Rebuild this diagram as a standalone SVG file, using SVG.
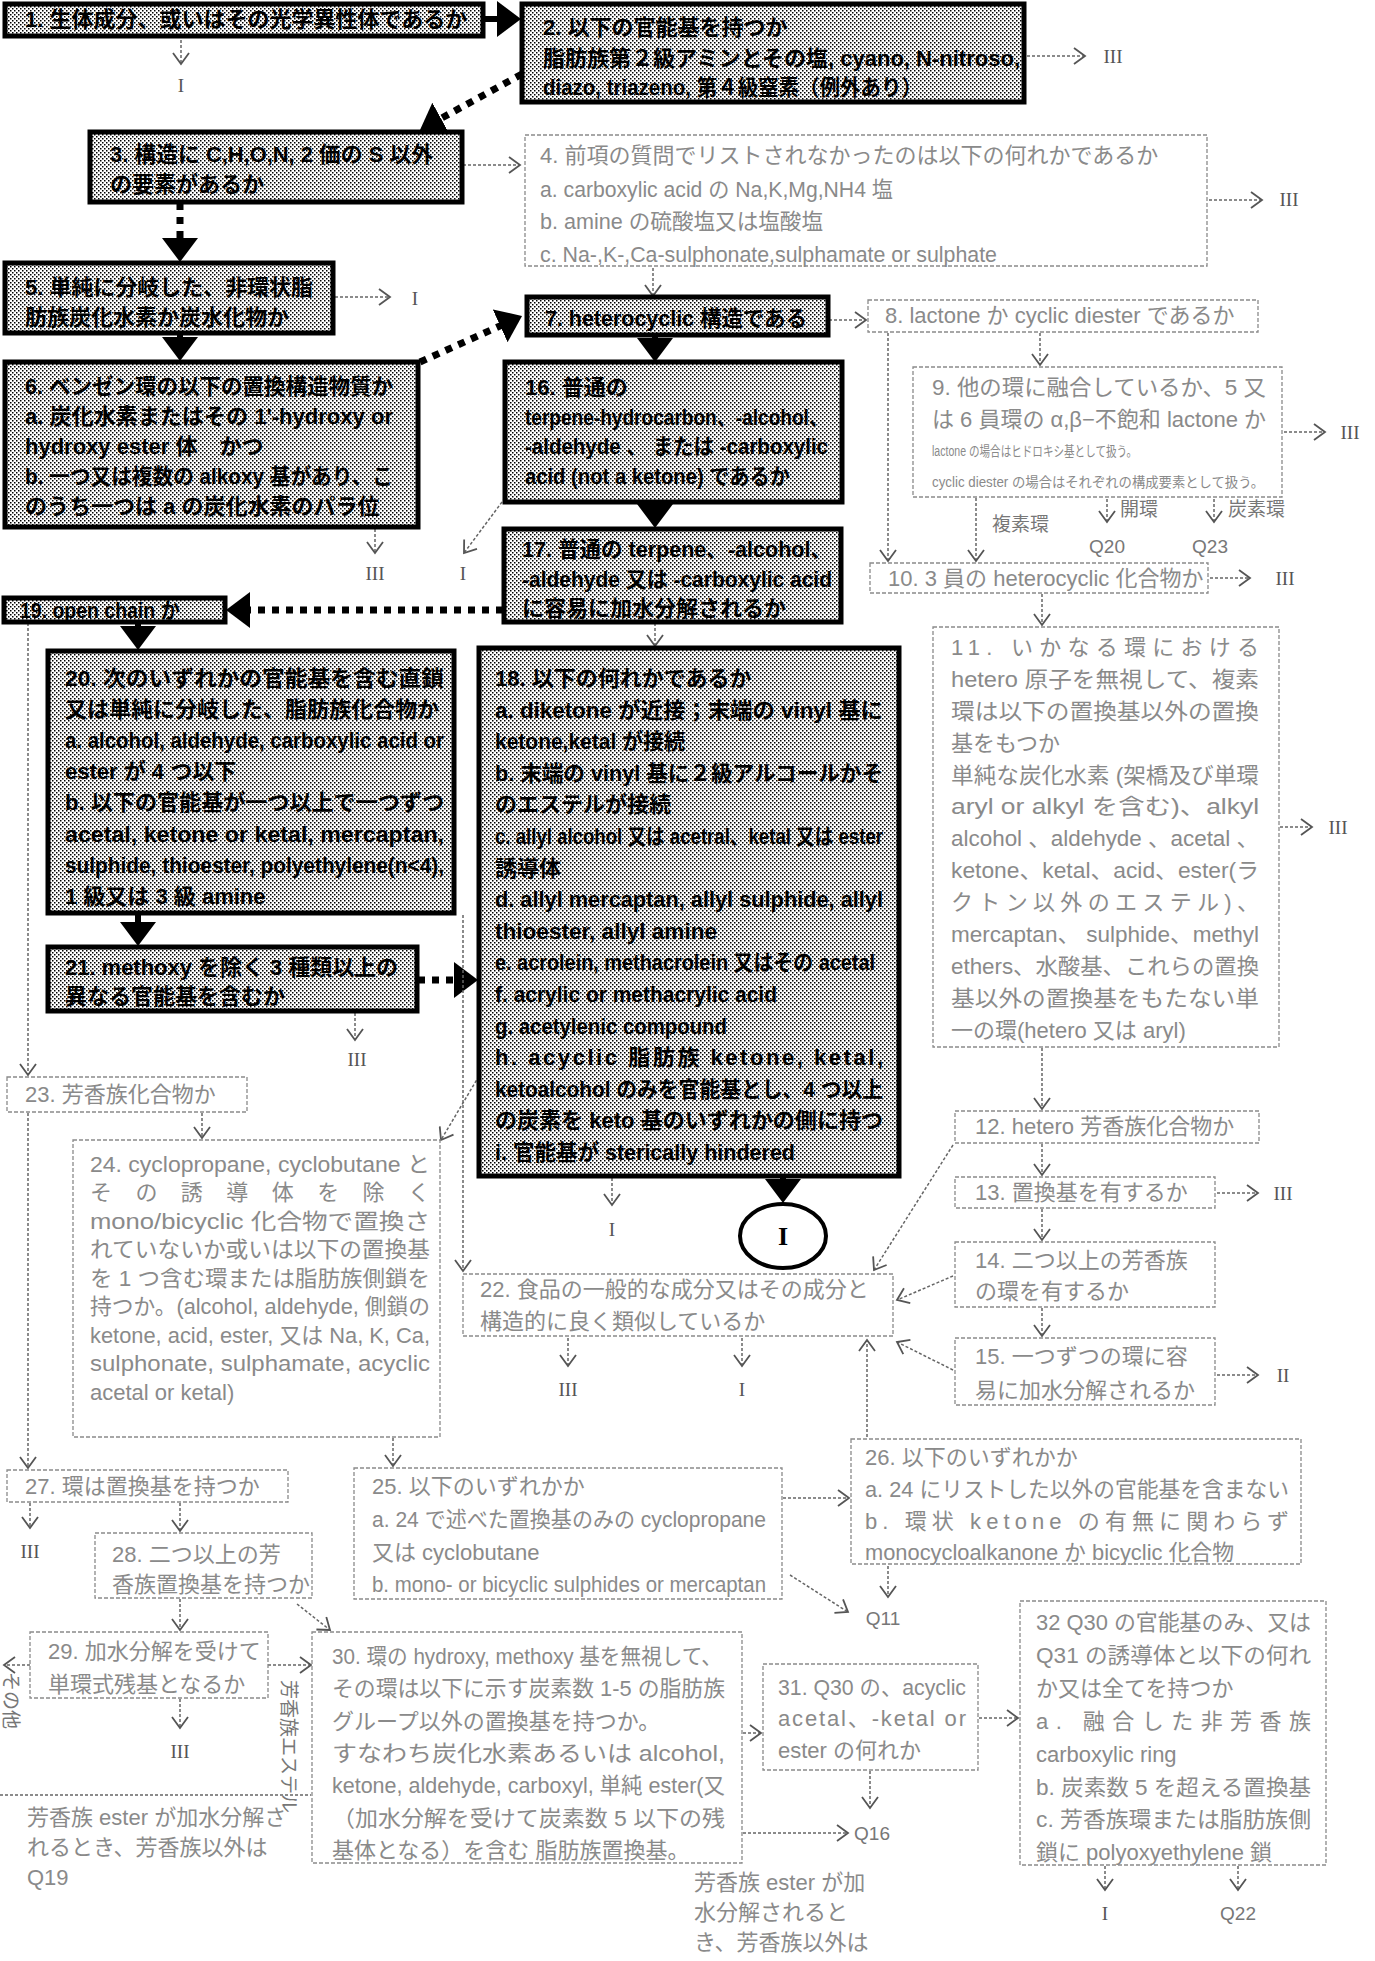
<svg xmlns="http://www.w3.org/2000/svg" width="1375" height="1961" viewBox="0 0 1375 1961">
<style>
.bx{fill:url(#dots);stroke:#000;stroke-width:5}
.lx{fill:#fff;stroke:#8a8a8a;stroke-width:1.3;stroke-dasharray:4 2}
.b{font-family:"Liberation Sans","Noto Sans CJK JP",sans-serif;font-size:22px;font-weight:bold;fill:#000}
.l{font-family:"Liberation Sans","Noto Sans CJK JP",sans-serif;font-size:22px;fill:#8a8a8a}
.s{font-family:"Liberation Sans","Noto Sans CJK JP",sans-serif;font-size:14px;fill:#8a8a8a}
.lab{font-family:"Liberation Serif","Noto Sans CJK JP",serif;font-size:19px;fill:#555;text-anchor:middle}
.q{font-family:"Liberation Sans","Noto Sans CJK JP",sans-serif;font-size:19px;fill:#777;text-anchor:middle}
.ql{font-family:"Liberation Sans","Noto Sans CJK JP",sans-serif;font-size:19px;fill:#777}
.ct{fill:none;stroke:#000;stroke-width:6;marker-end:url(#hb)}
.cd{fill:none;stroke:#000;stroke-width:7;stroke-dasharray:7 7;marker-end:url(#hb)}
.cl{fill:none;stroke:#666;stroke-width:1.5;stroke-dasharray:3 2;marker-end:url(#ht)}
.cn{fill:none;stroke:#666;stroke-width:1.5;stroke-dasharray:3 2}
</style>
<defs>
<pattern id="dots" width="4" height="4" patternUnits="userSpaceOnUse"><rect width="4" height="4" fill="#fff"/><rect width="1.5" height="1.5" fill="#000"/><rect x="2" y="2" width="1.5" height="1.5" fill="#000"/></pattern>
<marker id="hb" markerUnits="userSpaceOnUse" viewBox="0 0 24 36" refX="4" refY="18" markerWidth="24" markerHeight="36" orient="auto"><path d="M0,0 L24,18 L0,36 z" fill="#000"/></marker>
<marker id="ht" markerUnits="userSpaceOnUse" viewBox="-1 -1 14 18" refX="11" refY="8" markerWidth="14" markerHeight="18" orient="auto"><path d="M0,0 L11,8 L0,16" fill="none" stroke="#555" stroke-width="1.8"/></marker>
</defs>
<rect width="1375" height="1961" fill="#fff"/>

<g id="connectors">
<path class="ct" d="M483,19 H501"/>
<path class="cd" d="M522,74 L437.5,120.4"/>
<path class="cd" d="M180,203 V242"/>
<path class="ct" d="M180,334 V341"/>
<path class="cd" d="M420,362 L503.8,324.2"/>
<path class="ct" d="M655,336 V342"/>
<path class="ct" d="M655,502 V508"/>
<path class="cd" d="M503,610 H246"/>
<path class="ct" d="M138,623 V630"/>
<path class="ct" d="M138,914 V926"/>
<path class="cd" d="M418,980 H458"/>
<path class="ct" d="M783,1177 V1183"/>

<path class="cl" d="M181,40 V64"/>
<path class="cl" d="M1027,56 H1085"/>
<path class="cl" d="M463,165 H520"/>
<path class="cl" d="M1209,200 H1262"/>
<path class="cl" d="M653,268 V296"/>
<path class="cl" d="M335,297 H390"/>
<path class="cl" d="M375,529 V553"/>
<path class="cl" d="M829,320 H866"/>
<path class="cl" d="M888,333 V561"/>
<path class="cl" d="M1040,333 V365"/>
<path class="cl" d="M1284,432 H1325"/>
<path class="cl" d="M976,498 V561"/>
<path class="cl" d="M1107,499 V522"/>
<path class="cl" d="M1214,499 V522"/>
<path class="cl" d="M1210,578 H1250"/>
<path class="cl" d="M1042,594 V625"/>
<path class="cl" d="M1280,827 H1312"/>
<path class="cl" d="M1042,1048 V1109"/>
<path class="cl" d="M1042,1144 V1175"/>
<path class="cl" d="M1217,1193 H1258"/>
<path class="cl" d="M1042,1209 V1240"/>
<path class="cl" d="M1042,1308 V1336"/>
<path class="cl" d="M1217,1375 H1258"/>
<path class="cl" d="M953,1145 L874,1270"/>
<path class="cl" d="M953,1276 L897,1300"/>
<path class="cl" d="M953,1370 L897,1342"/>
<path class="cl" d="M867,1437 V1340"/>
<path class="cl" d="M505,498 L464,553"/>
<path class="cl" d="M655,623 V646"/>
<path class="cl" d="M28,623 V1075"/>
<path class="cl" d="M463,915 V1271"/>
<path class="cl" d="M479,1076 L441,1140"/>
<path class="cl" d="M355,1013 V1040"/>
<path class="cl" d="M612,1178 V1205"/>
<path class="cl" d="M568,1338 V1366"/>
<path class="cl" d="M742,1338 V1366"/>
<path class="cl" d="M202,1113 V1138"/>
<path class="cl" d="M28,1113 V1468"/>
<path class="cl" d="M393,1438 V1466"/>
<path class="cl" d="M783,1498 H849"/>
<path class="cl" d="M790,1575 L848,1612"/>
<path class="cl" d="M888,1566 V1597"/>
<path class="cl" d="M30,1503 V1528"/>
<path class="cl" d="M180,1503 V1531"/>
<path class="cl" d="M180,1599 V1630"/>
<path class="cl" d="M297,1604 L330,1630"/>
<path class="cl" d="M30,1665 H4"/>
<path class="cl" d="M268,1665 H311"/>
<path class="cl" d="M180,1699 V1728"/>
<path class="cl" d="M743,1733 H761"/>
<path class="cl" d="M743,1833 H848"/>
<path class="cl" d="M870,1771 V1808"/>
<path class="cl" d="M979,1718 H1018"/>
<path class="cl" d="M1105,1866 V1890"/>
<path class="cl" d="M1238,1866 V1890"/>
<path class="cn" d="M0,1795 H311"/>
</g>

<g id="labels">
<text class="lab" x="181" y="92">I</text>
<text class="lab" x="1113" y="63">III</text>
<text class="lab" x="1289" y="206">III</text>
<text class="lab" x="415" y="305">I</text>
<text class="lab" x="375" y="580">III</text>
<text class="lab" x="463" y="580">I</text>
<text class="lab" x="1350" y="439">III</text>
<text class="ql" x="992" y="531">複素環</text>
<text class="ql" x="1120" y="516">開環</text>
<text class="ql" x="1228" y="516">炭素環</text>
<text class="q" x="1107" y="553">Q20</text>
<text class="q" x="1210" y="553">Q23</text>
<text class="lab" x="1285" y="585">III</text>
<text class="lab" x="1338" y="834">III</text>
<text class="lab" x="1283" y="1200">III</text>
<text class="lab" x="1283" y="1382">II</text>
<text class="lab" x="357" y="1066">III</text>
<text class="lab" x="612" y="1236">I</text>
<text class="lab" x="568" y="1396">III</text>
<text class="lab" x="742" y="1396">I</text>
<text class="lab" x="30" y="1558">III</text>
<text class="lab" x="180" y="1758">III</text>
<text class="q" x="883" y="1625">Q11</text>
<text class="q" x="872" y="1840">Q16</text>
<text class="lab" x="1105" y="1920">I</text>
<text class="q" x="1238" y="1920">Q22</text>
<text class="ql" transform="translate(4,1672) rotate(90)">その他</text>
<text class="ql" transform="translate(282,1680) rotate(90)">芳香族エステル</text>
<text class="l" x="27" y="1825">芳香族 ester が加水分解さ</text>
<text class="l" x="27" y="1855">れるとき、芳香族以外は</text>
<text class="l" x="27" y="1885">Q19</text>
<text class="l" x="694" y="1890">芳香族 ester が加</text>
<text class="l" x="694" y="1920">水分解されると</text>
<text class="l" x="694" y="1950">き、芳香族以外は</text>
</g>

<g id="n1"><rect class="bx" x="5" y="4" width="478" height="32"/><text class="b" x="25" y="27">1. 生体成分、或いはその光学異性体であるか</text></g>
<g id="n2"><rect class="bx" x="522" y="4" width="502" height="98"/>
<text class="b" x="543" y="35">2. 以下の官能基を持つか</text>
<text class="b" x="543" y="66" textLength="477" lengthAdjust="spacingAndGlyphs">脂肪族第２級アミンとその塩, cyano, N-nitroso,</text>
<text class="b" x="543" y="95" textLength="379" lengthAdjust="spacingAndGlyphs">diazo, triazeno, 第４級窒素（例外あり）</text></g>
<g id="n3"><rect class="bx" x="90" y="132" width="372" height="70"/>
<text class="b" x="110" y="162" textLength="323" lengthAdjust="spacingAndGlyphs">3. 構造に C,H,O,N, 2 価の S 以外</text>
<text class="b" x="110" y="192">の要素があるか</text></g>
<g id="n4"><rect class="lx" x="525" y="135" width="682" height="131"/>
<text class="l" x="540" y="163">4. 前項の質問でリストされなかったのは以下の何れかであるか</text>
<text class="l" x="540" y="197" textLength="353" lengthAdjust="spacingAndGlyphs">a. carboxylic acid の Na,K,Mg,NH4 塩</text>
<text class="l" x="540" y="229" textLength="283" lengthAdjust="spacingAndGlyphs">b. amine の硫酸塩又は塩酸塩</text>
<text class="l" x="540" y="262" textLength="457" lengthAdjust="spacingAndGlyphs">c. Na-,K-,Ca-sulphonate,sulphamate or sulphate</text></g>
<g id="n5"><rect class="bx" x="5" y="263" width="328" height="70"/>
<text class="b" x="25" y="295" textLength="288" lengthAdjust="spacingAndGlyphs">5. 単純に分岐した、非環状脂</text>
<text class="b" x="25" y="325">肪族炭化水素か炭水化物か</text></g>
<g id="n6"><rect class="bx" x="5" y="362" width="413" height="165"/>
<text class="b" x="25" y="394" textLength="368" lengthAdjust="spacingAndGlyphs">6. ベンゼン環の以下の置換構造物質か</text>
<text class="b" x="25" y="424" textLength="368" lengthAdjust="spacingAndGlyphs">a. 炭化水素またはその 1'-hydroxy or</text>
<text class="b" x="25" y="454">hydroxy ester 体　かつ</text>
<text class="b" x="25" y="484" textLength="368" lengthAdjust="spacingAndGlyphs">b. 一つ又は複数の alkoxy 基があり、こ</text>
<text class="b" x="25" y="514">のうち一つは a の炭化水素のパラ位</text></g>
<g id="n7"><rect class="bx" x="527" y="297" width="301" height="38"/>
<text class="b" x="545" y="326" textLength="262" lengthAdjust="spacingAndGlyphs">7. heterocyclic 構造である</text></g>
<g id="n8"><rect class="lx" x="868" y="300" width="390" height="32"/>
<text class="l" x="885" y="323">8. lactone か cyclic diester であるか</text></g>
<g id="n9"><rect class="lx" x="913" y="367" width="369" height="130"/>
<text class="l" x="932" y="395" textLength="334" lengthAdjust="spacingAndGlyphs">9. 他の環に融合しているか、5 又</text>
<text class="l" x="932" y="427" textLength="334" lengthAdjust="spacingAndGlyphs">は 6 員環の α,β−不飽和 lactone か</text>
<text class="s" x="932" y="456" textLength="205" lengthAdjust="spacingAndGlyphs">lactone の場合はヒドロキシ基として扱う。</text>
<text class="s" x="932" y="487" textLength="332" lengthAdjust="spacingAndGlyphs">cyclic diester の場合はそれぞれの構成要素として扱う。</text></g>
<g id="n10"><rect class="lx" x="870" y="563" width="338" height="30"/>
<text class="l" x="888" y="586">10. 3 員の heterocyclic 化合物か</text></g>
<g id="n11"><rect class="lx" x="933" y="627" width="346" height="420"/>
<text class="l" x="951" y="655" textLength="308" lengthAdjust="spacing">11. いかなる環における</text>
<text class="l" x="951" y="687" textLength="308" lengthAdjust="spacingAndGlyphs">hetero 原子を無視して、複素</text>
<text class="l" x="951" y="719" textLength="308" lengthAdjust="spacingAndGlyphs">環は以下の置換基以外の置換</text>
<text class="l" x="951" y="751">基をもつか</text>
<text class="l" x="951" y="783" textLength="308" lengthAdjust="spacingAndGlyphs">単純な炭化水素 (架橋及び単環</text>
<text class="l" x="951" y="814" textLength="308" lengthAdjust="spacingAndGlyphs">aryl or alkyl を含む)、alkyl</text>
<text class="l" x="951" y="846" textLength="308" lengthAdjust="spacingAndGlyphs">alcohol 、aldehyde 、acetal 、</text>
<text class="l" x="951" y="878" textLength="308" lengthAdjust="spacingAndGlyphs">ketone、ketal、acid、ester(ラ</text>
<text class="l" x="951" y="910" textLength="308" lengthAdjust="spacing">クトン以外のエステル)、</text>
<text class="l" x="951" y="942" textLength="308" lengthAdjust="spacingAndGlyphs">mercaptan、 sulphide、methyl</text>
<text class="l" x="951" y="974" textLength="308" lengthAdjust="spacingAndGlyphs">ethers、水酸基、これらの置換</text>
<text class="l" x="951" y="1006" textLength="308" lengthAdjust="spacingAndGlyphs">基以外の置換基をもたない単</text>
<text class="l" x="951" y="1038">一の環(hetero 又は aryl)</text></g>
<g id="n12"><rect class="lx" x="955" y="1111" width="304" height="32"/>
<text class="l" x="975" y="1134">12. hetero 芳香族化合物か</text></g>
<g id="n13"><rect class="lx" x="955" y="1177" width="260" height="31"/>
<text class="l" x="975" y="1200">13. 置換基を有するか</text></g>
<g id="n14"><rect class="lx" x="955" y="1242" width="260" height="65"/>
<text class="l" x="975" y="1268">14. 二つ以上の芳香族</text>
<text class="l" x="975" y="1299">の環を有するか</text></g>
<g id="n15"><rect class="lx" x="955" y="1338" width="260" height="67"/>
<text class="l" x="975" y="1364">15. 一つずつの環に容</text>
<text class="l" x="975" y="1398">易に加水分解されるか</text></g>
<g id="n16"><rect class="bx" x="505" y="362" width="337" height="140"/>
<text class="b" x="525" y="395">16. 普通の</text>
<text class="b" x="525" y="425" textLength="303" lengthAdjust="spacingAndGlyphs">terpene-hydrocarbon、-alcohol、</text>
<text class="b" x="525" y="454" textLength="303" lengthAdjust="spacingAndGlyphs">-aldehyde 、 または -carboxylic</text>
<text class="b" x="525" y="484" textLength="265" lengthAdjust="spacingAndGlyphs">acid (not a ketone) であるか</text></g>
<g id="n17"><rect class="bx" x="504" y="529" width="337" height="93"/>
<text class="b" x="522" y="557" textLength="310" lengthAdjust="spacingAndGlyphs">17. 普通の terpene、-alcohol、</text>
<text class="b" x="522" y="587" textLength="310" lengthAdjust="spacingAndGlyphs">-aldehyde 又は -carboxylic acid</text>
<text class="b" x="522" y="616">に容易に加水分解されるか</text></g>
<g id="n18"><rect class="bx" x="479" y="648" width="420" height="528"/>
<text class="b" x="495" y="686">18. 以下の何れかであるか</text>
<text class="b" x="495" y="718" textLength="388" lengthAdjust="spacingAndGlyphs">a. diketone が近接；末端の vinyl 基に</text>
<text class="b" x="495" y="749" textLength="190" lengthAdjust="spacingAndGlyphs">ketone,ketal が接続</text>
<text class="b" x="495" y="781" textLength="388" lengthAdjust="spacingAndGlyphs">b. 末端の vinyl 基に２級アルコールかそ</text>
<text class="b" x="495" y="812">のエステルが接続</text>
<text class="b" x="495" y="844" textLength="388" lengthAdjust="spacingAndGlyphs">c. allyl alcohol 又は acetral、ketal 又は ester</text>
<text class="b" x="495" y="876">誘導体</text>
<text class="b" x="495" y="907" textLength="388" lengthAdjust="spacingAndGlyphs">d. allyl mercaptan, allyl sulphide, allyl</text>
<text class="b" x="495" y="939" textLength="222" lengthAdjust="spacingAndGlyphs">thioester, allyl amine</text>
<text class="b" x="495" y="970" textLength="380" lengthAdjust="spacingAndGlyphs">e. acrolein, methacrolein 又はその acetal</text>
<text class="b" x="495" y="1002" textLength="282" lengthAdjust="spacingAndGlyphs">f. acrylic or methacrylic acid</text>
<text class="b" x="495" y="1034" textLength="232" lengthAdjust="spacingAndGlyphs">g. acetylenic compound</text>
<text class="b" x="495" y="1065" textLength="388" lengthAdjust="spacing">h. acyclic 脂肪族 ketone, ketal,</text>
<text class="b" x="495" y="1097" textLength="388" lengthAdjust="spacingAndGlyphs">ketoalcohol のみを官能基とし、4 つ以上</text>
<text class="b" x="495" y="1128" textLength="388" lengthAdjust="spacingAndGlyphs">の炭素を keto 基のいずれかの側に持つ</text>
<text class="b" x="495" y="1160" textLength="300" lengthAdjust="spacingAndGlyphs">i. 官能基が sterically hindered</text></g>
<g id="n19"><rect class="bx" x="4" y="598" width="221" height="24"/>
<text class="b" x="20" y="618" textLength="160" lengthAdjust="spacingAndGlyphs">19. open chain か</text></g>
<g id="n20"><rect class="bx" x="48" y="651" width="406" height="262"/>
<text class="b" x="65" y="686" textLength="379" lengthAdjust="spacingAndGlyphs">20. 次のいずれかの官能基を含む直鎖</text>
<text class="b" x="65" y="717">又は単純に分岐した、脂肪族化合物か</text>
<text class="b" x="65" y="748" textLength="379" lengthAdjust="spacingAndGlyphs">a. alcohol, aldehyde, carboxylic acid or</text>
<text class="b" x="65" y="779">ester が 4 つ以下</text>
<text class="b" x="65" y="810" textLength="379" lengthAdjust="spacingAndGlyphs">b. 以下の官能基が一つ以上で一つずつ</text>
<text class="b" x="65" y="842" textLength="379" lengthAdjust="spacingAndGlyphs">acetal, ketone or ketal, mercaptan,</text>
<text class="b" x="65" y="873" textLength="379" lengthAdjust="spacingAndGlyphs">sulphide, thioester, polyethylene(n&lt;4),</text>
<text class="b" x="65" y="904">1 級又は 3 級 amine</text></g>
<g id="n21"><rect class="bx" x="48" y="947" width="369" height="64"/>
<text class="b" x="65" y="975" textLength="333" lengthAdjust="spacingAndGlyphs">21. methoxy を除く 3 種類以上の</text>
<text class="b" x="65" y="1004">異なる官能基を含むか</text></g>
<g id="nI"><ellipse cx="783" cy="1236" rx="43" ry="32" fill="#fff" stroke="#000" stroke-width="4"/>
<text x="783" y="1245" text-anchor="middle" font-family="Liberation Serif,serif" font-size="26" font-weight="bold">I</text></g>
<g id="n22"><rect class="lx" x="463" y="1274" width="430" height="62"/>
<text class="l" x="480" y="1297">22. 食品の一般的な成分又はその成分と</text>
<text class="l" x="480" y="1329">構造的に良く類似しているか</text></g>
<g id="n23"><rect class="lx" x="7" y="1077" width="240" height="35"/>
<text class="l" x="25" y="1102">23. 芳香族化合物か</text></g>
<g id="n24"><rect class="lx" x="73" y="1140" width="367" height="297"/>
<text class="l" x="90" y="1172" textLength="340" lengthAdjust="spacingAndGlyphs">24. cyclopropane, cyclobutane と</text>
<text class="l" x="90" y="1200" textLength="340" lengthAdjust="spacing">その誘導体を除く</text>
<text class="l" x="90" y="1229" textLength="340" lengthAdjust="spacingAndGlyphs">mono/bicyclic 化合物で置換さ</text>
<text class="l" x="90" y="1257" textLength="340" lengthAdjust="spacingAndGlyphs">れていないか或いは以下の置換基</text>
<text class="l" x="90" y="1286" textLength="340" lengthAdjust="spacingAndGlyphs">を 1 つ含む環または脂肪族側鎖を</text>
<text class="l" x="90" y="1314" textLength="340" lengthAdjust="spacingAndGlyphs">持つか。(alcohol, aldehyde, 側鎖の</text>
<text class="l" x="90" y="1343" textLength="340" lengthAdjust="spacingAndGlyphs">ketone, acid, ester, 又は Na, K, Ca,</text>
<text class="l" x="90" y="1371" textLength="340" lengthAdjust="spacingAndGlyphs">sulphonate, sulphamate, acyclic</text>
<text class="l" x="90" y="1400">acetal or ketal)</text></g>
<g id="n25"><rect class="lx" x="354" y="1468" width="428" height="131"/>
<text class="l" x="372" y="1494">25. 以下のいずれかか</text>
<text class="l" x="372" y="1527" textLength="394" lengthAdjust="spacingAndGlyphs">a. 24 で述べた置換基のみの cyclopropane</text>
<text class="l" x="372" y="1560">又は cyclobutane</text>
<text class="l" x="372" y="1592" textLength="394" lengthAdjust="spacingAndGlyphs">b. mono- or bicyclic sulphides or mercaptan</text></g>
<g id="n26"><rect class="lx" x="851" y="1439" width="450" height="125"/>
<text class="l" x="865" y="1465">26. 以下のいずれかか</text>
<text class="l" x="865" y="1497" textLength="424" lengthAdjust="spacingAndGlyphs">a. 24 にリストした以外の官能基を含まない</text>
<text class="l" x="865" y="1529" textLength="424" lengthAdjust="spacing">b. 環状 ketone の有無に関わらず</text>
<text class="l" x="865" y="1560" textLength="369" lengthAdjust="spacingAndGlyphs">monocycloalkanone か bicyclic 化合物</text></g>
<g id="n27"><rect class="lx" x="7" y="1470" width="281" height="32"/>
<text class="l" x="25" y="1494">27. 環は置換基を持つか</text></g>
<g id="n28"><rect class="lx" x="95" y="1533" width="217" height="65"/>
<text class="l" x="112" y="1562">28. 二つ以上の芳</text>
<text class="l" x="112" y="1592">香族置換基を持つか</text></g>
<g id="n29"><rect class="lx" x="30" y="1632" width="238" height="66"/>
<text class="l" x="48" y="1659">29. 加水分解を受けて</text>
<text class="l" x="48" y="1692">単環式残基となるか</text></g>
<g id="n30"><rect class="lx" x="312" y="1632" width="430" height="231"/>
<text class="l" x="332" y="1664" textLength="390" lengthAdjust="spacingAndGlyphs">30. 環の hydroxy, methoxy 基を無視して、</text>
<text class="l" x="332" y="1696" textLength="393" lengthAdjust="spacingAndGlyphs">その環は以下に示す炭素数 1-5 の脂肪族</text>
<text class="l" x="332" y="1729">グループ以外の置換基を持つか。</text>
<text class="l" x="332" y="1761" textLength="393" lengthAdjust="spacingAndGlyphs">すなわち炭化水素あるいは alcohol,</text>
<text class="l" x="332" y="1793" textLength="393" lengthAdjust="spacingAndGlyphs">ketone, aldehyde, carboxyl, 単純 ester(又</text>
<text class="l" x="332" y="1826" textLength="393" lengthAdjust="spacingAndGlyphs">（加水分解を受けて炭素数 5 以下の残</text>
<text class="l" x="332" y="1858">基体となる）を含む 脂肪族置換基。</text></g>
<g id="n31"><rect class="lx" x="763" y="1664" width="215" height="106"/>
<text class="l" x="778" y="1695" textLength="188" lengthAdjust="spacingAndGlyphs">31. Q30 の、acyclic</text>
<text class="l" x="778" y="1726" textLength="188" lengthAdjust="spacing">acetal、-ketal or</text>
<text class="l" x="778" y="1758">ester の何れか</text></g>
<g id="n32"><rect class="lx" x="1020" y="1601" width="306" height="264"/>
<text class="l" x="1036" y="1630" textLength="275" lengthAdjust="spacingAndGlyphs">32 Q30 の官能基のみ、又は</text>
<text class="l" x="1036" y="1663" textLength="275" lengthAdjust="spacingAndGlyphs">Q31 の誘導体と以下の何れ</text>
<text class="l" x="1036" y="1696">か又は全てを持つか</text>
<text class="l" x="1036" y="1729" textLength="275" lengthAdjust="spacing">a. 融合した非芳香族</text>
<text class="l" x="1036" y="1762">carboxylic ring</text>
<text class="l" x="1036" y="1795" textLength="275" lengthAdjust="spacingAndGlyphs">b. 炭素数 5 を超える置換基</text>
<text class="l" x="1036" y="1827" textLength="275" lengthAdjust="spacingAndGlyphs">c. 芳香族環または脂肪族側</text>
<text class="l" x="1036" y="1860">鎖に polyoxyethylene 鎖</text></g>
</svg>
